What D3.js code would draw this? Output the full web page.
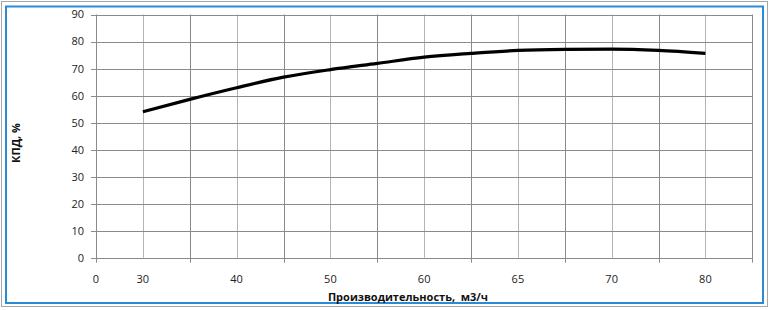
<!DOCTYPE html>
<html><head><meta charset="utf-8">
<script src="https://cdn.jsdelivr.net/npm/d3@7"></script>
<style>body{margin:0;background:#fff}svg{display:block}text{font-family:"Open Sans","Noto Sans",sans-serif;white-space:pre}</style>
</head><body>
<script>
const categories = ["30","40","50","60","65","70","80"];
const yTicks = [0,10,20,30,40,50,60,70,80,90];
// curve points: position along category axis (0 = first category) and efficiency, %
const curvePos = [0,0.5,1,1.5,2,2.5,3,3.5,4,4.5,5,5.5,6];
const efficiency = [54.0,58.6,62.9,66.8,69.6,71.9,74.2,75.6,76.7,77.1,77.2,76.7,75.6];

const W=771,H=310;
const svg=d3.select("body").append("svg").attr("width",W).attr("height",H);
svg.append("rect").attr("x",1.5).attr("y",1.5).attr("width",766).attr("height",305).attr("fill","#fff").attr("stroke","#a6a6a6").attr("stroke-width",1);
svg.append("rect").attr("x",6).attr("y",6.5).attr("width",757).attr("height",296.5).attr("fill","none").attr("stroke","#2a8ad4").attr("stroke-width",2);

const L=96,R=752.3,T=14.5,B=257.7;
const x=d3.scaleLinear().domain([-0.5,categories.length-0.5]).range([L,R]);
const y=d3.scaleLinear().domain([0,90]).range([B,T]);

const g=svg.append("g");
// minor vertical grid (at categories)
g.selectAll(".vmin").data(categories).join("line")
 .attr("x1",(d,i)=>Math.round(x(i))+0.5).attr("x2",(d,i)=>Math.round(x(i))+0.5)
 .attr("y1",T).attr("y2",B).attr("stroke","#b4b4b4");
// major vertical grid (between categories)
const majors=d3.range(-0.5,categories.length,1);
g.selectAll(".vmaj").data(majors).join("line")
 .attr("x1",d=>Math.round(x(d))+0.5).attr("x2",d=>Math.round(x(d))+0.5)
 .attr("y1",T).attr("y2",B+5).attr("stroke","#8a8a8a");
// horizontal grid
g.selectAll(".h").data(yTicks).join("line")
 .attr("x1",L-5).attr("x2",R).attr("y1",d=>Math.round(y(d))+0.5).attr("y2",d=>Math.round(y(d))+0.5)
 .attr("stroke","#8a8a8a");
// y labels
g.selectAll(".yl").data(yTicks).join("text")
 .attr("x",84).attr("y",d=>y(d)).attr("dy","0.36em").attr("text-anchor","end")
 .attr("font-size",11).attr("fill","#222").text(d=>d);
// x labels
g.selectAll(".xl").data(categories).join("text")
 .attr("x",(d,i)=>x(i)).attr("y",283).attr("text-anchor","middle")
 .attr("font-size",11).attr("fill","#222").text(d=>d);
g.append("text").attr("x",x(-0.5)).attr("y",283).attr("text-anchor","middle").attr("font-size",11).attr("fill","#222").text("0");
// titles
svg.append("text").attr("x",408).attr("y",301).attr("text-anchor","middle").attr("font-size",11).attr("font-weight","bold").attr("fill","#111").attr("xml:space","preserve").text("Производительность,  м3/ч");
svg.append("text").attr("transform","translate(20,143) rotate(-90)").attr("text-anchor","middle").attr("font-size",11).attr("font-weight","bold").attr("fill","#111").text("КПД, %");
// curve
const pts=curvePos.map((p,i)=>[p,efficiency[i]]);
svg.append("path").datum(pts).attr("fill","none").attr("stroke","#000").attr("stroke-width",3.2)
 .attr("stroke-linejoin","round")
 .attr("d",d3.line().x(d=>x(d[0])).y(d=>y(d[1])).curve(d3.curveMonotoneX));
</script>
</body></html>
